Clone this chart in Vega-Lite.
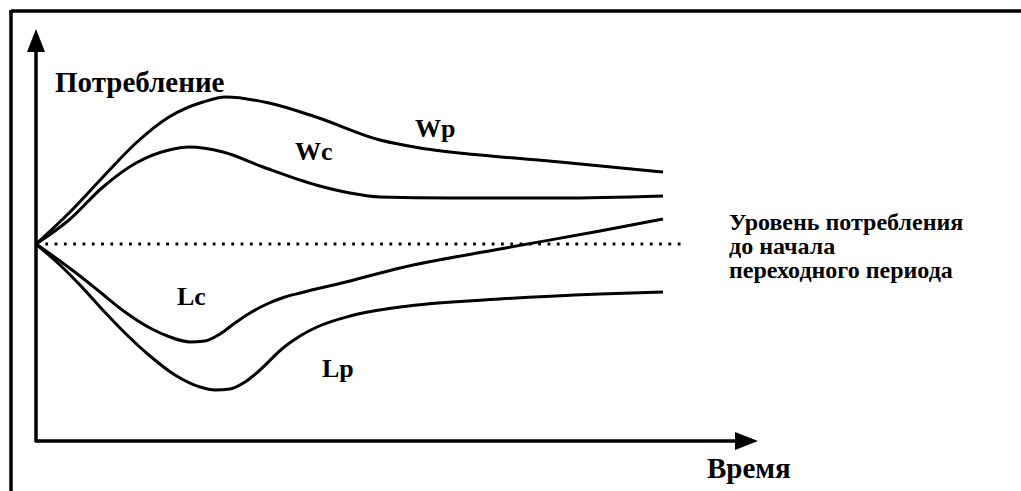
{
  "$schema": "https://vega.github.io/schema/vega-lite/v6.json",
  "width": 1021,
  "height": 491,
  "autosize": "none",
  "padding": 0,
  "background": "white",
  "config": {"view": {"stroke": null}},
  "datasets": {
    "curves": [
      {"series": "Wp", "t": 0, "c": 197}, {"series": "Wp", "t": 33, "c": 228}, {"series": "Wp", "t": 67, "c": 264}, {"series": "Wp", "t": 100, "c": 298}, {"series": "Wp", "t": 133, "c": 324}, {"series": "Wp", "t": 167, "c": 339}, {"series": "Wp", "t": 190, "c": 344}, {"series": "Wp", "t": 233, "c": 338}, {"series": "Wp", "t": 280, "c": 324}, {"series": "Wp", "t": 344, "c": 301}, {"series": "Wp", "t": 384, "c": 293}, {"series": "Wp", "t": 444, "c": 286}, {"series": "Wp", "t": 524, "c": 279}, {"series": "Wp", "t": 627, "c": 269},
      {"series": "Wc", "t": 0, "c": 197}, {"series": "Wc", "t": 33, "c": 221}, {"series": "Wc", "t": 67, "c": 254}, {"series": "Wc", "t": 100, "c": 278}, {"series": "Wc", "t": 133, "c": 291}, {"series": "Wc", "t": 153, "c": 294}, {"series": "Wc", "t": 187, "c": 289}, {"series": "Wc", "t": 227, "c": 274}, {"series": "Wc", "t": 280, "c": 256}, {"series": "Wc", "t": 314, "c": 248}, {"series": "Wc", "t": 344, "c": 244}, {"series": "Wc", "t": 414, "c": 243}, {"series": "Wc", "t": 524, "c": 243}, {"series": "Wc", "t": 627, "c": 245},
      {"series": "Lc", "t": 0, "c": 197}, {"series": "Lc", "t": 24, "c": 180}, {"series": "Lc", "t": 44, "c": 165}, {"series": "Lc", "t": 64, "c": 149}, {"series": "Lc", "t": 89, "c": 129}, {"series": "Lc", "t": 114, "c": 113}, {"series": "Lc", "t": 134, "c": 104}, {"series": "Lc", "t": 154, "c": 99}, {"series": "Lc", "t": 169, "c": 100}, {"series": "Lc", "t": 184, "c": 107}, {"series": "Lc", "t": 199, "c": 118}, {"series": "Lc", "t": 214, "c": 128}, {"series": "Lc", "t": 231, "c": 137}, {"series": "Lc", "t": 249, "c": 144}, {"series": "Lc", "t": 264, "c": 148}, {"series": "Lc", "t": 314, "c": 160}, {"series": "Lc", "t": 364, "c": 173}, {"series": "Lc", "t": 464, "c": 192}, {"series": "Lc", "t": 564, "c": 210}, {"series": "Lc", "t": 627, "c": 222},
      {"series": "Lp", "t": 0, "c": 197}, {"series": "Lp", "t": 24, "c": 176}, {"series": "Lp", "t": 44, "c": 156}, {"series": "Lp", "t": 64, "c": 134}, {"series": "Lp", "t": 89, "c": 108}, {"series": "Lp", "t": 114, "c": 85}, {"series": "Lp", "t": 139, "c": 66}, {"series": "Lp", "t": 164, "c": 54}, {"series": "Lp", "t": 179, "c": 51}, {"series": "Lp", "t": 194, "c": 52}, {"series": "Lp", "t": 209, "c": 59}, {"series": "Lp", "t": 224, "c": 71}, {"series": "Lp", "t": 247, "c": 93}, {"series": "Lp", "t": 264, "c": 105}, {"series": "Lp", "t": 281, "c": 114}, {"series": "Lp", "t": 314, "c": 125}, {"series": "Lp", "t": 364, "c": 134}, {"series": "Lp", "t": 464, "c": 142}, {"series": "Lp", "t": 564, "c": 147}, {"series": "Lp", "t": 627, "c": 149}
    ],
    "frame": [
      {"part": "border top", "t": -25, "t2": 985, "c": 430, "c2": 430},
      {"part": "border left", "t": -25, "t2": -25, "c": -50, "c2": 431},
      {"part": "axis y", "t": 0, "t2": 0, "c": -1, "c2": 395},
      {"part": "axis x", "t": -1, "t2": 705, "c": 0, "c2": 0}
    ],
    "level": [{"t": 0, "t2": 649, "c": 197}],
    "arrowUp": [{"t": 0, "c": 400.5}],
    "arrowRight": [{"t": 710.5, "c": 0}],
    "titles": [
      {"label": "Потребление", "t": 19, "c": 349},
      {"label": "Время", "t": 671, "c": -37}
    ],
    "curveLabels": [
      {"label": "Wp", "t": 379, "c": 304},
      {"label": "Wc", "t": 259, "c": 281},
      {"label": "Lc", "t": 141, "c": 136},
      {"label": "Lp", "t": 286, "c": 64}
    ],
    "note": [
      {"label": "Уровень потребления", "t": 693, "c": 211},
      {"label": "до начала", "t": 693, "c": 187},
      {"label": "переходного периода", "t": 693, "c": 163}
    ]
  },
  "layer": [
    {
      "data": {"name": "frame"},
      "mark": {"type": "rule", "color": "black", "strokeWidth": 3.5},
      "encoding": {
        "x": {"field": "t", "type": "quantitative", "scale": {"domain": [-36, 985], "nice": false, "zero": false}, "axis": null},
        "x2": {"field": "t2"},
        "y": {"field": "c", "type": "quantitative", "scale": {"domain": [-50, 441], "nice": false, "zero": false}, "axis": null},
        "y2": {"field": "c2"}
      }
    },
    {
      "data": {"name": "level"},
      "mark": {"type": "rule", "color": "black", "strokeWidth": 2.8, "strokeDash": [2.8, 6.5]},
      "encoding": {
        "x": {"field": "t", "type": "quantitative"},
        "x2": {"field": "t2"},
        "y": {"field": "c", "type": "quantitative"}
      }
    },
    {
      "data": {"name": "curves"},
      "mark": {"type": "line", "color": "black", "strokeWidth": 3, "interpolate": "monotone"},
      "encoding": {
        "x": {"field": "t", "type": "quantitative"},
        "y": {"field": "c", "type": "quantitative"},
        "detail": {"field": "series", "type": "nominal"}
      }
    },
    {
      "data": {"name": "arrowUp"},
      "mark": {"type": "point", "shape": "M0,-1.28L1,1.28L-1,1.28Z", "size": 324, "filled": true, "color": "black", "opacity": 1},
      "encoding": {
        "x": {"field": "t", "type": "quantitative"},
        "y": {"field": "c", "type": "quantitative"}
      }
    },
    {
      "data": {"name": "arrowRight"},
      "mark": {"type": "point", "shape": "M1.28,0L-1.28,1L-1.28,-1Z", "size": 324, "filled": true, "color": "black", "opacity": 1},
      "encoding": {
        "x": {"field": "t", "type": "quantitative"},
        "y": {"field": "c", "type": "quantitative"}
      }
    },
    {
      "data": {"name": "titles"},
      "mark": {"type": "text", "font": "'Liberation Serif', 'DejaVu Serif', serif", "fontWeight": "bold", "fontSize": 29, "align": "left", "baseline": "alphabetic", "color": "black"},
      "encoding": {
        "x": {"field": "t", "type": "quantitative"},
        "y": {"field": "c", "type": "quantitative"},
        "text": {"field": "label"}
      }
    },
    {
      "data": {"name": "curveLabels"},
      "mark": {"type": "text", "font": "'Liberation Serif', 'DejaVu Serif', serif", "fontWeight": "bold", "fontSize": 26, "align": "left", "baseline": "alphabetic", "color": "black"},
      "encoding": {
        "x": {"field": "t", "type": "quantitative"},
        "y": {"field": "c", "type": "quantitative"},
        "text": {"field": "label"}
      }
    },
    {
      "data": {"name": "note"},
      "mark": {"type": "text", "font": "'Liberation Serif', 'DejaVu Serif', serif", "fontWeight": "bold", "fontSize": 24, "align": "left", "baseline": "alphabetic", "color": "black"},
      "encoding": {
        "x": {"field": "t", "type": "quantitative"},
        "y": {"field": "c", "type": "quantitative"},
        "text": {"field": "label"}
      }
    }
  ]
}
